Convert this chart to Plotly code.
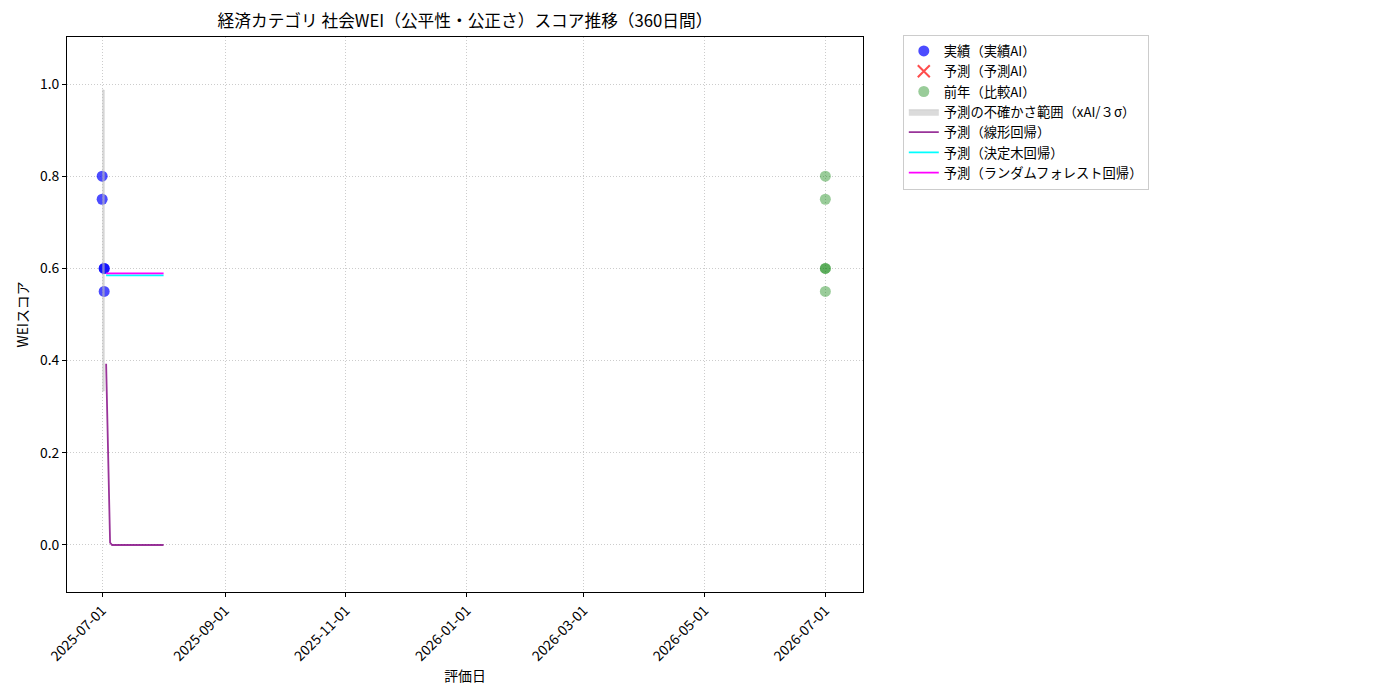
import pandas as pd
import plotly.graph_objects as go

# 実績（実績AI）
actual_dates = ["2025-07-01", "2025-07-01", "2025-07-02", "2025-07-02", "2025-07-02"]
actual_scores = [0.80, 0.75, 0.60, 0.60, 0.55]

# 前年（比較AI）
prev_dates = ["2026-07-01", "2026-07-01", "2026-07-01", "2026-07-01", "2026-07-01"]
prev_scores = [0.80, 0.75, 0.60, 0.60, 0.55]

# 予測の不確かさ範囲
band_dates = ["2025-07-01", "2025-07-02"]
band_upper = [0.987, 0.987]
band_lower = [0.334, 0.334]

# 予測（各モデル）
forecast_dates = pd.date_range("2025-07-03", "2025-08-01", freq="D")
linear_pred = [0.393, 0.200, 0.005, 0.0, 0.0, 0.0, 0.0, 0.0, 0.0, 0.0,
               0.0, 0.0, 0.0, 0.0, 0.0, 0.0, 0.0, 0.0, 0.0, 0.0,
               0.0, 0.0, 0.0, 0.0, 0.0, 0.0, 0.0, 0.0, 0.0, 0.0]
tree_pred = [0.585] * 30
forest_pred = [0.589] * 30

tick_dates = ["2025-07-01", "2025-09-01", "2025-11-01", "2026-01-01",
              "2026-03-01", "2026-05-01", "2026-07-01"]
y_ticks = [0.0, 0.2, 0.4, 0.6, 0.8, 1.0]

FONT = "Noto Sans CJK JP, Noto Sans, sans-serif"
FS = 13.9  # matplotlib 10pt

fig = go.Figure()

fig.add_trace(go.Scatter(
    x=actual_dates, y=actual_scores, mode="markers", name="実績（実績AI）",
    marker=dict(color="rgba(0,0,255,0.7)", size=11, line=dict(width=0))
))
fig.add_trace(go.Scatter(
    x=[None], y=[None], mode="markers", name="予測（予測AI）",
    marker=dict(color="rgba(255,0,0,0.7)", size=12, symbol="x-thin",
                line=dict(width=2, color="rgba(255,0,0,0.7)"))
))
fig.add_trace(go.Scatter(
    x=prev_dates, y=prev_scores, mode="markers", name="前年（比較AI）",
    marker=dict(color="rgba(0,128,0,0.4)", size=11, line=dict(width=0))
))
fig.add_trace(go.Scatter(
    x=band_dates + band_dates[::-1], y=band_upper + band_lower[::-1],
    fill="toself", fillcolor="rgba(190,190,190,0.55)", mode="lines",
    line=dict(width=1, color="rgba(190,190,190,0.55)"),
    name="予測の不確かさ範囲（xAI/３σ）"
))
fig.add_trace(go.Scatter(
    x=forecast_dates, y=linear_pred, mode="lines", name="予測（線形回帰）",
    line=dict(color="rgba(128,0,128,0.8)", width=1.8)
))
fig.add_trace(go.Scatter(
    x=forecast_dates, y=tree_pred, mode="lines", name="予測（決定木回帰）",
    line=dict(color="cyan", width=1.8)
))
fig.add_trace(go.Scatter(
    x=forecast_dates, y=forest_pred, mode="lines", name="予測（ランダムフォレスト回帰）",
    line=dict(color="magenta", width=1.8)
))

# page is offset by the default body margin, so compensate here
fig.update_layout(
    width=1400, height=700,
    margin=dict(l=59, r=545, t=29, b=116),
    paper_bgcolor="white", plot_bgcolor="white",
    font=dict(family=FONT, size=FS, color="black"),
    title=dict(text="経済カテゴリ 社会WEI（公平性・公正さ）スコア推移（360日間）",
               x=0.5, xref="paper", y=1 - 13 / 700, yref="container",
               yanchor="middle", font=dict(size=16.7)),
    legend=dict(x=1.05, y=1.004, xanchor="left", yanchor="top",
                bordercolor="#cccccc", borderwidth=1, font=dict(size=13.3),
                tracegroupgap=0, itemwidth=30),
    showlegend=True,
)

fig.update_xaxes(
    type="date", range=["2025-06-13 06:00", "2026-07-20"],
    tickvals=tick_dates, ticktext=tick_dates, tickangle=-45,
    ticks="outside", ticklen=4, tickcolor="black",
    showline=True, linecolor="black", linewidth=1, mirror=True,
    showgrid=True, gridcolor="#cccccc", griddash="1px,2px", gridwidth=1,
    zeroline=False,
    title=dict(text="評価日", standoff=4, font=dict(size=FS)),
)
fig.update_yaxes(
    range=[-0.102, 1.102], tickvals=y_ticks, tickformat=".1f",
    ticks="outside", ticklen=4, tickcolor="black",
    showline=True, linecolor="black", linewidth=1, mirror=True,
    showgrid=True, gridcolor="#cccccc", griddash="1px,2px", gridwidth=1,
    zeroline=False,
    title=dict(text="WEIスコア", standoff=8, font=dict(size=FS)),
)

fig.write_html("out.html")
